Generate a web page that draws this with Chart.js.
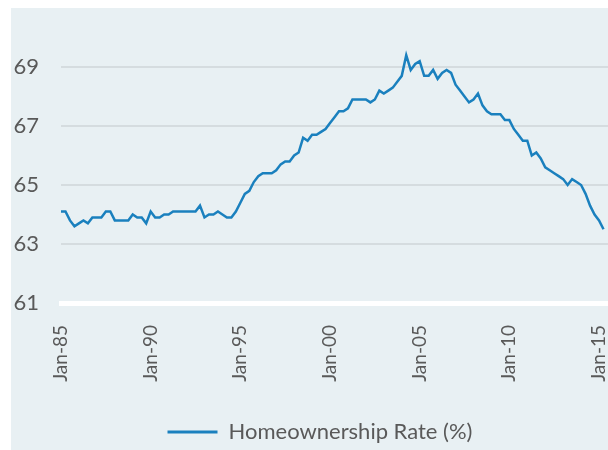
<!DOCTYPE html>
<html>
<head>
<meta charset="utf-8">
<script src="https://cdn.jsdelivr.net/npm/chart.js@4.4.1/dist/chart.umd.min.js"></script>
<style>
  html, body { margin: 0; padding: 0; background: #fff; }
  #wrap { position: absolute; left: 11px; top: 8px; width: 597px; height: 442px; background: #E8F0F3; }
</style>
</head>
<body>
<div id="wrap"><canvas id="chart"></canvas></div>
<script>
// quarterly homeownership rate, Q1 1985 .. Q2 2015 (one row per year)
const homeownershipRate = [
    64.1, 64.1, 63.8, 63.6,   // 1985
    63.7, 63.8, 63.7, 63.9,   // 1986
    63.9, 63.9, 64.1, 64.1,   // 1987
    63.8, 63.8, 63.8, 63.8,   // 1988
    64.0, 63.9, 63.9, 63.7,   // 1989
    64.1, 63.9, 63.9, 64.0,   // 1990
    64.0, 64.1, 64.1, 64.1,   // 1991
    64.1, 64.1, 64.1, 64.3,   // 1992
    63.9, 64.0, 64.0, 64.1,   // 1993
    64.0, 63.9, 63.9, 64.1,   // 1994
    64.4, 64.7, 64.8, 65.1,   // 1995
    65.3, 65.4, 65.4, 65.4,   // 1996
    65.5, 65.7, 65.8, 65.8,   // 1997
    66.0, 66.1, 66.6, 66.5,   // 1998
    66.7, 66.7, 66.8, 66.9,   // 1999
    67.1, 67.3, 67.5, 67.5,   // 2000
    67.6, 67.9, 67.9, 67.9,   // 2001
    67.9, 67.8, 67.9, 68.2,   // 2002
    68.1, 68.2, 68.3, 68.5,   // 2003
    68.7, 69.4, 68.9, 69.1,   // 2004
    69.2, 68.7, 68.7, 68.9,   // 2005
    68.6, 68.8, 68.9, 68.8,   // 2006
    68.4, 68.2, 68.0, 67.8,   // 2007
    67.9, 68.1, 67.7, 67.5,   // 2008
    67.4, 67.4, 67.4, 67.2,   // 2009
    67.2, 66.9, 66.7, 66.5,   // 2010
    66.5, 66.0, 66.1, 65.9,   // 2011
    65.6, 65.5, 65.4, 65.3,   // 2012
    65.2, 65.0, 65.2, 65.1,   // 2013
    65.0, 64.7, 64.3, 64.0,   // 2014
    63.8, 63.5                // 2015
];

const firstYear = 1985;
const lastYear = 2015;
const quarterMonths = ['Jan', 'Apr', 'Jul', 'Oct'];
const shownEvery = 20;   // a label every five years
const yTicks = [61, 63, 65, 67, 69];
const yMin = 61;
const yMax = 70;

// category labels like "Jan-85"; runs one quarter past the last value
const labels = [];
for (let y = firstYear; y <= lastYear; y++) {
    quarterMonths.forEach(m => labels.push(m + '-' + String(y).slice(2)));
}
labels.length = homeownershipRate.length + 1;

const textColor = '#595959';
const lineColor = '#1A80BE';
const fontFamily = 'Lato, "Open Sans", sans-serif';

// nudge the legend a little lower and to the right of where chart.js puts it
const legendNudge = {
    id: 'legendNudge',
    afterLayout(chart) {
        chart.legend.top += 3;
        chart.legend.bottom += 3;
        chart.legend.left += 21;
    }
};

new Chart(document.getElementById('chart'), {
    type: 'line',
    data: {
        labels: labels,
        datasets: [{
            label: 'Homeownership Rate (%)',
            data: homeownershipRate,
            borderColor: lineColor,
            backgroundColor: lineColor,
            borderWidth: 2.5,
            pointRadius: 0,
            tension: 0,
            fill: false
        }]
    },
    plugins: [legendNudge],
    options: {
        responsive: true,
        maintainAspectRatio: false,
        animation: false,
        layout: { padding: { top: 29.5, right: 0, bottom: 0, left: 0 } },
        plugins: {
            tooltip: { enabled: false },
            legend: {
                position: 'bottom',
                labels: {
                    color: textColor,
                    font: { family: fontFamily, size: 22 },
                    boxWidth: 50,
                    boxHeight: 3,
                    padding: 6,
                    generateLabels: chart => Chart.defaults.plugins.legend.labels.generateLabels(chart)
                        .map(item => Object.assign(item, { lineWidth: 0, fillStyle: lineColor }))
                }
            }
        },
        scales: {
            x: {
                grid: { display: false, drawTicks: false },
                border: { display: true, color: '#FFFFFF', width: 5 },
                ticks: {
                    autoSkip: false,
                    minRotation: 90,
                    maxRotation: 90,
                    padding: 22,
                    color: textColor,
                    font: { family: fontFamily, size: 19 },
                    callback: function(value, index) {
                        return index % shownEvery === 0 ? this.getLabelForValue(value) : null;
                    }
                },
                afterFit: scale => {
                    scale.height = 109;
                    scale.paddingLeft = 0;
                    scale.paddingRight = 0;
                }
            },
            y: {
                min: yMin,
                max: yMax,
                afterBuildTicks: scale => { scale.ticks = yTicks.map(v => ({ value: v })); },
                grid: {
                    drawTicks: false,
                    color: ctx => ctx.tick && ctx.tick.value === yMin ? 'rgba(0,0,0,0)' : '#D5DCDF',
                    lineWidth: 2
                },
                border: { display: false },
                ticks: {
                    padding: 22,
                    color: textColor,
                    font: { family: fontFamily, size: 22 }
                },
                afterFit: scale => {
                    scale.width = 50;
                    scale.paddingTop = 0;
                    scale.paddingBottom = 0;
                }
            }
        }
    }
});
</script>
</body>
</html>
